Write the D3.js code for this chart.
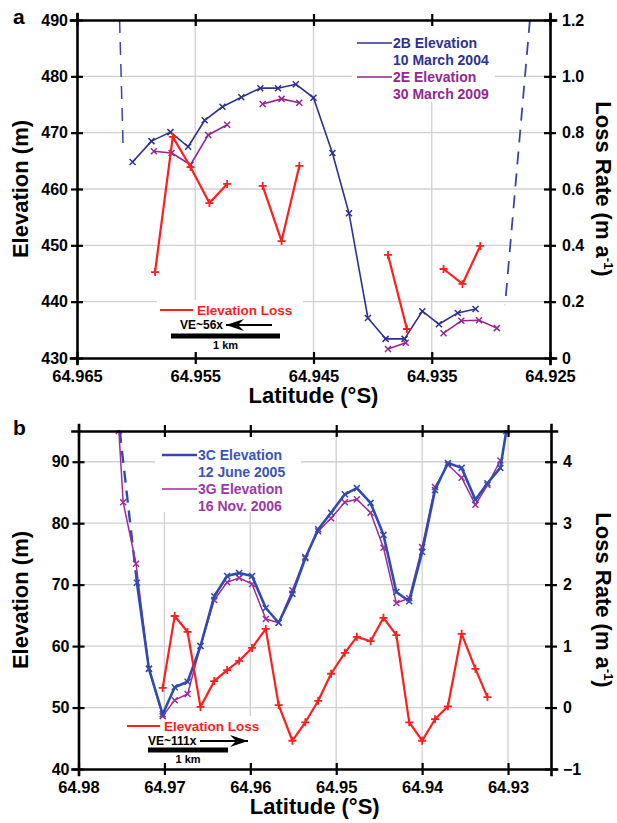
<!DOCTYPE html>
<html>
<head>
<meta charset="utf-8">
<script src="https://cdn.jsdelivr.net/npm/d3@7/dist/d3.min.js"></script>
<style>
    body { margin: 0; background: #fff; }
    svg text { font-family: "Liberation Sans", Arial, sans-serif; font-weight: bold; }
</style>
</head>
<body>
<div id="chart"></div>
<script>
// ---------- panel a data ----------
var lat2B = [64.9603, 64.9587, 64.9571, 64.9556, 64.9542, 64.9527, 64.9511, 64.9495, 64.9480, 64.9465,
             64.9450, 64.9434, 64.9420, 64.9404, 64.9389, 64.9373, 64.9358, 64.9344, 64.9328, 64.9313];
var elev2B = [464.8, 468.5, 470.1, 467.5, 472.2, 474.6, 476.3, 477.9, 477.9, 478.6,
              476.2, 466.4, 455.7, 437.1, 433.4, 433.4, 438.3, 436.0, 438.0, 438.7];

// null = gap in the survey line
var lat2E = [64.9585, 64.9570, 64.9554, 64.9539, 64.9523, null, 64.9493, 64.9477, 64.9462, null,
             64.9387, 64.9372, null, 64.9340, 64.9325, 64.9310, 64.9295];
var elev2E = [466.7, 466.4, 464.3, 469.6, 471.4, null, 475.1, 476.0, 475.3, null,
              431.6, 432.7, null, 434.4, 436.6, 436.7, 435.3];

var latLossA = [64.9584, 64.9569, 64.9554, 64.9538, 64.9523, null, 64.9493, 64.9477, 64.9462, null,
                64.9387, 64.9371, null, 64.9340, 64.9324, 64.9309];
var lossA = [0.305, 0.785, 0.678, 0.550, 0.618, null, 0.611, 0.415, 0.682, null,
             0.366, 0.103, null, 0.316, 0.263, 0.398];

// dashed margins of 2B profile
var latEdgeA1 = [64.9614, 64.9611];
var elevEdgeA1 = [490, 467.5];
var latEdgeA2 = [64.9267, 64.9288];
var elevEdgeA2 = [490, 439.4];

// ---------- panel b data ----------
var lat3C = [64.9732, 64.9718, 64.9702, 64.9688, 64.9673, 64.9658, 64.9642, 64.9627, 64.9613, 64.9598,
             64.9582, 64.9567, 64.9551, 64.9536, 64.9521, 64.9506, 64.9490, 64.9476, 64.9460, 64.9445,
             64.9430, 64.9415, 64.9400, 64.9385, 64.9370, 64.9354, 64.9338, 64.9324, 64.9309, 64.9302];
var elev3C = [70.3, 56.3, 48.9, 53.3, 54.2, 60.0, 68.1, 71.4, 71.9, 71.4,
              66.2, 63.8, 68.5, 74.3, 79.0, 81.7, 84.7, 85.7, 83.3, 78.1,
              68.8, 67.3, 75.3, 85.4, 89.8, 89.0, 83.8, 86.5, 89.0, 95.0];

var lat3G = [64.9753, 64.9748, 64.9733, 64.9718, 64.9702, 64.9688, 64.9673, 64.9658, 64.9642, 64.9627,
             64.9613, 64.9598, 64.9582, 64.9567, 64.9551, 64.9536, 64.9521, 64.9506, 64.9490, 64.9476,
             64.9460, 64.9445, 64.9430, 64.9415, 64.9400, 64.9385, 64.9370, 64.9354, 64.9338, 64.9324, 64.9309];
var elev3G = [95.0, 83.4, 73.4, 56.3, 48.6, 51.2, 52.2, 60.0, 67.5, 70.4,
              71.1, 70.1, 64.4, 63.8, 69.1, 74.5, 78.7, 80.8, 83.4, 83.9,
              81.7, 76.0, 67.0, 67.8, 76.1, 85.9, 89.5, 87.4, 83.0, 86.2, 90.2];

var latLossB = [64.9702, 64.9688, 64.9673, 64.9658, 64.9642, 64.9627, 64.9613, 64.9598, 64.9582, 64.9567,
                64.9551, 64.9536, 64.9521, 64.9506, 64.9490, 64.9476, 64.9460, 64.9445, 64.9430, 64.9415,
                64.9400, 64.9385, 64.9370, 64.9354, 64.9338, 64.9324];
var lossB = [0.32, 1.49, 1.23, 0.01, 0.43, 0.61, 0.76, 0.97, 1.28, 0.04,
             -0.54, -0.24, 0.11, 0.55, 0.89, 1.15, 1.08, 1.46, 1.18, -0.24,
             -0.54, -0.19, 0.02, 1.20, 0.63, 0.17];

var latEdgeB = [64.9752, 64.9732];
var elevEdgeB = [95, 70.3];

// ticks
var xTicksA = [64.965, 64.955, 64.945, 64.935, 64.925];
var yTicksA = [430, 440, 450, 460, 470, 480, 490];
var rTicksA = [0, 0.2, 0.4, 0.6, 0.8, 1.0, 1.2];
var xTicksB = [64.98, 64.97, 64.96, 64.95, 64.94, 64.93];
var yTicksB = [40, 50, 60, 70, 80, 90];
var rTicksB = [-1, 0, 1, 2, 3, 4];

var RED = "#ff1e1e";
var FONT = "'Liberation Sans', Arial, sans-serif";

var svg = d3.select("#chart").append("svg")
    .attr("width", 617)
    .attr("height", 823);

function zip(a, b) {
    return a.map((d, i) => [d, b[i]]);
}

function drawPanel(p) {
    var x = d3.scaleLinear().domain(p.xDomain).range([p.left, p.right]);
    var yL = d3.scaleLinear().domain(p.yLeft).range([p.bottom, p.top]);
    var yR = d3.scaleLinear().domain(p.yRight).range([p.bottom, p.top]);
    var g = svg.append("g");

    // grid
    var xGrid = p.xTicks.filter(d => x(d) > p.left + 1 && x(d) < p.right - 1);
    var yGrid = p.yTicks.filter(d => yL(d) > p.top + 1 && yL(d) < p.bottom - 1);
    g.append("g").selectAll("line").data(xGrid).enter().append("line")
        .attr("x1", d => x(d)).attr("x2", d => x(d))
        .attr("y1", p.top).attr("y2", p.bottom)
        .attr("stroke", "#d0d0d0").attr("stroke-width", 1.3);
    g.append("g").selectAll("line").data(yGrid).enter().append("line")
        .attr("y1", d => yL(d)).attr("y2", d => yL(d))
        .attr("x1", p.left).attr("x2", p.right)
        .attr("stroke", "#d0d0d0").attr("stroke-width", 1.3);

    // white boxes behind legend and annotation
    p.boxes.forEach(function (b) {
        g.append("rect").attr("x", b[0]).attr("y", b[1]).attr("width", b[2]).attr("height", b[3])
            .attr("fill", "#fff");
    });

    // data
    svg.append("clipPath").attr("id", "clip-" + p.name)
        .append("rect").attr("x", p.left).attr("y", p.top - 1)
        .attr("width", p.right - p.left).attr("height", p.bottom - p.top + 2);
    var plot = g.append("g").attr("clip-path", "url(#clip-" + p.name + ")");

    p.series.forEach(function (s) {
        var y = s.axis == "R" ? yR : yL;
        var pts = zip(s.lat, s.val);
        var line = d3.line()
            .defined(d => d[0] != null && d[1] != null)
            .x(d => x(d[0]))
            .y(d => y(d[1]));
        plot.append("path")
            .attr("d", line(pts))
            .attr("fill", "none")
            .attr("stroke", s.color)
            .attr("stroke-width", s.width)
            .attr("stroke-dasharray", s.dash || null)
            .attr("stroke-linejoin", "round");
        if (s.marker) {
            var sym = s.marker == "+" ? "M-4,0H4M0,-4V4" : "M-3,-3L3,3M-3,3L3,-3";
            plot.append("g").selectAll("path")
                .data(pts.filter(d => d[0] != null && d[1] != null))
                .enter().append("path")
                .attr("transform", d => "translate(" + x(d[0]) + "," + y(d[1]) + ")")
                .attr("d", sym)
                .attr("stroke", s.color)
                .attr("stroke-width", s.marker == "+" ? 1.8 : 1.5)
                .attr("fill", "none");
        }
    });

    // axes
    function styleAxis(a) {
        a.attr("font-size", 16).attr("font-family", FONT).attr("font-weight", "bold");
        a.select(".domain").attr("stroke-width", 2.6).attr("stroke-linecap", "square");
        a.selectAll(".tick line").attr("stroke-width", 2.2);
    }
    var axB = g.append("g").attr("transform", "translate(0," + p.bottom + ")")
        .call(d3.axisBottom(x).tickValues(p.xTicks).tickFormat(d3.format(p.xFormat))
            .tickSizeOuter(0).tickSize(6).tickPadding(6));
    styleAxis(axB);
    axB.selectAll(".tick line").attr("y1", -6);
    axB.selectAll(".tick text").attr("font-size", 16.5);

    var axT = g.append("g").attr("transform", "translate(0," + p.top + ")")
        .call(d3.axisTop(x).tickValues(p.xTicks).tickFormat("").tickSizeOuter(0).tickSize(6));
    styleAxis(axT);
    axT.selectAll(".tick line").attr("y1", 6);

    var axL = g.append("g").attr("transform", "translate(" + p.left + ",0)")
        .call(d3.axisLeft(yL).tickValues(p.yTicks).tickFormat(d3.format("d"))
            .tickSizeOuter(0).tickSize(6).tickPadding(3));
    styleAxis(axL);
    axL.selectAll(".tick line").attr("x1", 6);

    var axR = g.append("g").attr("transform", "translate(" + p.right + ",0)")
        .call(d3.axisRight(yR).tickValues(p.rTicks).tickFormat(p.rFormat)
            .tickSizeOuter(0).tickSize(6).tickPadding(6));
    styleAxis(axR);
    axR.selectAll(".tick line").attr("x1", -6);

    // titles
    g.append("text").attr("x", 13).attr("y", p.top + 4)
        .attr("font-size", 21).text(p.name);
    g.append("text").attr("x", (p.left + p.right) / 2).attr("y", p.bottom + 45)
        .attr("text-anchor", "middle").attr("font-size", 22).text("Latitude (°S)");
    g.append("text").attr("transform", "translate(28," + (p.top + p.bottom) / 2 + ") rotate(-90)")
        .attr("text-anchor", "middle").attr("font-size", 22).text("Elevation (m)");
    var rt = g.append("text").attr("transform", "translate(596," + (p.top + p.bottom) / 2 + ") rotate(90)")
        .attr("text-anchor", "middle").attr("font-size", 22);
    rt.append("tspan").text("Loss Rate (m a");
    rt.append("tspan").attr("font-size", 13).attr("dy", -8).text("-1");
    rt.append("tspan").attr("dy", 8).text(")");

    // legend
    var lg = p.legend;
    lg.items.forEach(function (it, i) {
        var yy = lg.y + i * 34;
        g.append("line").attr("x1", lg.x).attr("x2", lg.x + 35).attr("y1", yy).attr("y2", yy)
            .attr("stroke", it.color).attr("stroke-width", it.width);
        g.append("text").attr("x", lg.x + 36).attr("y", yy + 5).attr("font-size", 14)
            .attr("fill", it.text).text(it.label);
        g.append("text").attr("x", lg.x + 36).attr("y", yy + 22).attr("font-size", 14)
            .attr("fill", it.text).text(it.date);
    });

    // elevation loss key, VE arrow, scale bar
    var k = p.key;
    g.append("line").attr("x1", k.x).attr("x2", k.x + 33).attr("y1", k.y).attr("y2", k.y)
        .attr("stroke", RED).attr("stroke-width", 2.2);
    g.append("text").attr("x", k.x + 37).attr("y", k.y + 5).attr("font-size", 13.5)
        .attr("fill", RED).text("Elevation Loss");
    g.append("text").attr("x", k.veX).attr("y", k.veY).attr("font-size", 12).text(k.ve);
    g.append("line").attr("x1", k.arrow[0]).attr("x2", k.arrow[1])
        .attr("y1", k.veY - 4).attr("y2", k.veY - 4)
        .attr("stroke", "#000").attr("stroke-width", 1.8);
    var hx = k.arrow[1], dir = k.arrow[1] > k.arrow[0] ? 1 : -1, hy = k.veY - 4;
    g.append("path")
        .attr("d", "M" + hx + "," + hy + "L" + (hx - dir * 18) + "," + (hy - 6) +
            "L" + (hx - dir * 12) + "," + hy + "L" + (hx - dir * 18) + "," + (hy + 6) + "Z")
        .attr("fill", "#000");
    g.append("rect").attr("x", k.bar[0]).attr("y", k.barY - 2.5)
        .attr("width", k.bar[1] - k.bar[0]).attr("height", 5).attr("fill", "#000");
    g.append("text").attr("x", (k.bar[0] + k.bar[1]) / 2).attr("y", k.barY + 13)
        .attr("text-anchor", "middle").attr("font-size", 11).text("1 km");
}

var lossFmtA = d => d === 0 ? "0" : d3.format(".1f")(d);

drawPanel({
    name: "a", left: 77, right: 550, top: 20, bottom: 358,
    xDomain: [64.965, 64.925], yLeft: [430, 490], yRight: [0, 1.2],
    xTicks: xTicksA, yTicks: yTicksA, rTicks: rTicksA, xFormat: ".3f", rFormat: lossFmtA,
    boxes: [[352, 24, 143, 78], [157, 300, 146, 52]],
    series: [
        { lat: latEdgeA1, val: elevEdgeA1, color: "#3b44a8", width: 1.5, dash: "13,9" },
        { lat: latEdgeA2, val: elevEdgeA2, color: "#3b44a8", width: 1.8, dash: "13,9" },
        { lat: lat2B, val: elev2B, color: "#2e3192", width: 1.6, marker: "x" },
        { lat: lat2E, val: elev2E, color: "#93278f", width: 1.6, marker: "x" },
        { lat: latLossA, val: lossA, axis: "R", color: RED, width: 2.2, marker: "+" }
    ],
    legend: { x: 357, y: 43, items: [
        { color: "#2e3192", width: 1.6, text: "#2e3192", label: "2B Elevation", date: "10 March 2004" },
        { color: "#93278f", width: 1.6, text: "#93278f", label: "2E Elevation", date: "30 March 2009" }
    ] },
    key: { x: 160, y: 310, ve: "VE~56x", veX: 180, veY: 329, arrow: [272, 226], bar: [171, 280], barY: 336 }
});

drawPanel({
    name: "b", left: 78.5, right: 551, top: 431, bottom: 769,
    xDomain: [64.98, 64.925], yLeft: [40, 95], yRight: [-1, 4.5],
    xTicks: xTicksB, yTicks: yTicksB, rTicks: rTicksB, xFormat: ".2f", rFormat: d3.format("d"),
    boxes: [[155, 433, 146, 79], [124, 716, 152, 51]],
    series: [
        { lat: latEdgeB, val: elevEdgeB, color: "#2f4bb0", width: 2.4, dash: "12,8" },
        { lat: lat3G, val: elev3G, color: "#a0299c", width: 1.5, marker: "x" },
        { lat: lat3C, val: elev3C, color: "#2f4bb0", width: 2.6, marker: "x" },
        { lat: latLossB, val: lossB, axis: "R", color: RED, width: 2.2, marker: "+" }
    ],
    legend: { x: 162, y: 455, items: [
        { color: "#2f4bb0", width: 2.6, text: "#3a55b8", label: "3C Elevation", date: "12 June 2005" },
        { color: "#a0299c", width: 1.6, text: "#9a3aa6", label: "3G Elevation", date: "16 Nov. 2006" }
    ] },
    key: { x: 127, y: 726, ve: "VE~111x", veX: 148, veY: 745, arrow: [200, 248], bar: [148, 228], barY: 750 }
});
</script>
</body>
</html>
